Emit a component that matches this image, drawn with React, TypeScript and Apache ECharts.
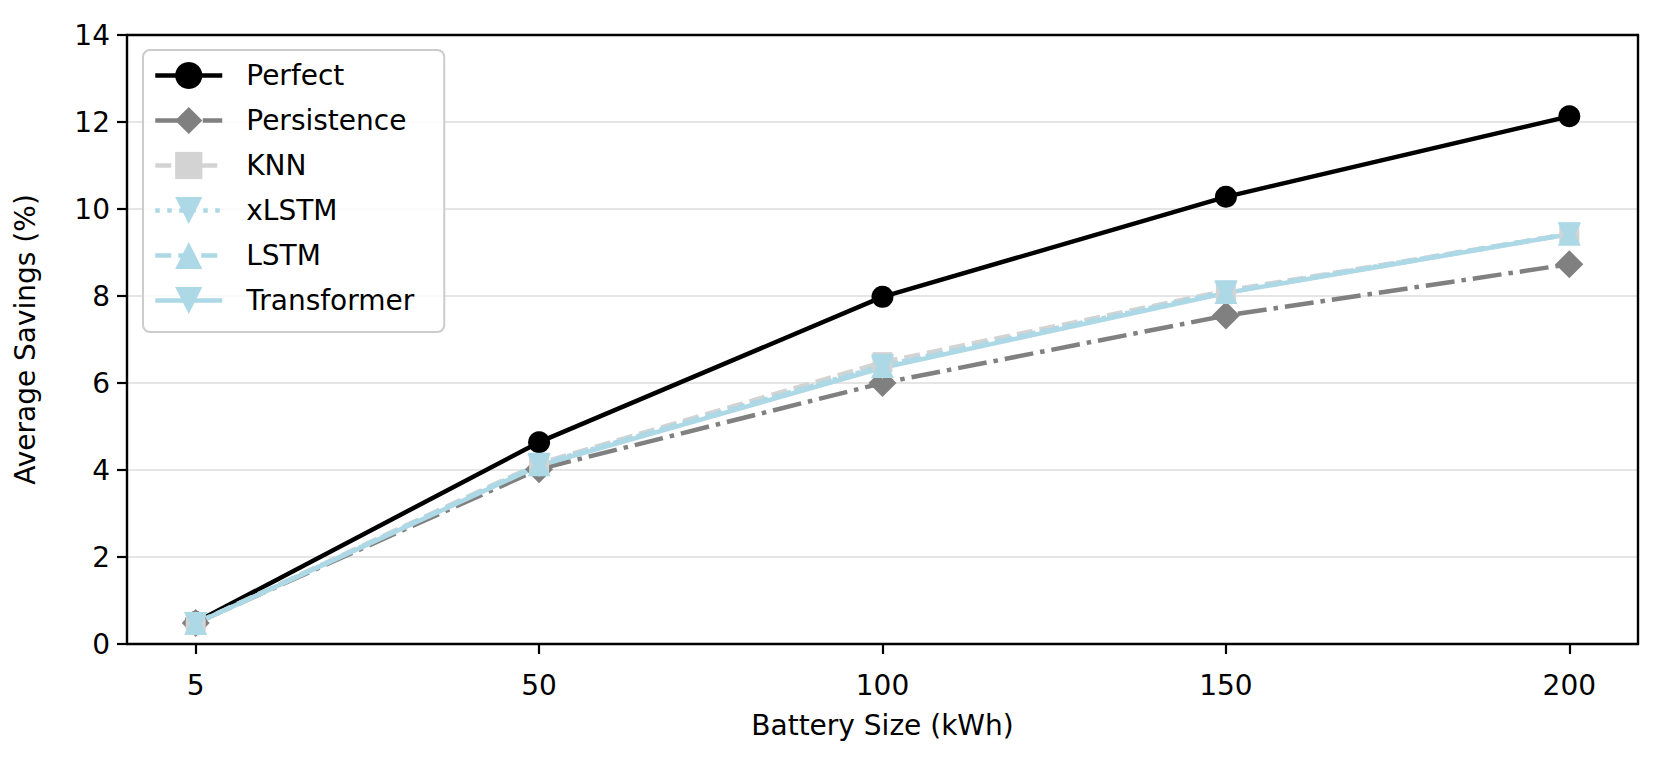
import React, { useEffect, useRef } from "react";
import * as echarts from "echarts";

const categories = ["5", "50", "100", "150", "200"];
const perfect = [0.5, 4.64, 7.98, 10.28, 12.13];
const persistence = [0.48, 4.02, 6.0, 7.55, 8.73];
const knn = [0.48, 4.15, 6.48, 8.12, 9.43];
const xlstm = [0.47, 4.13, 6.4, 8.1, 9.43];
const lstm = [0.47, 4.12, 6.38, 8.08, 9.42];
const transformer = [0.47, 4.1, 6.35, 8.07, 9.42];
const yTicks = [0, 2, 4, 6, 8, 10, 12, 14];

const FONT = "DejaVu Sans";
const LW = 4.5;

function pts(vals: number[]) {
  return vals.map((v, i) => [i, v]);
}

export default function App() {
  const ref = useRef<HTMLDivElement>(null);
  useEffect(() => {
    document.body.style.margin = "0";
    const chart = echarts.init(ref.current!, null, { renderer: "svg" });
    const mk = (
      name: string,
      vals: number[],
      color: string,
      dash: any,
      symbol: string,
      size: any,
      rotate = 0
    ) => ({
      name,
      type: "line",
      xAxisIndex: 0,
      yAxisIndex: 0,
      data: pts(vals),
      symbol,
      symbolSize: size,
      symbolRotate: rotate,
      showSymbol: true,
      lineStyle: { color, width: LW, type: dash, cap: "butt" },
      itemStyle: { color, borderWidth: 0 },
      emphasis: { disabled: true },
    });
    const frameLine = { show: true, onZero: false, lineStyle: { color: "#000", width: 2.4 } };
    chart.setOption({
      animation: false,
      textStyle: { fontFamily: FONT },
      grid: {
        left: 127,
        right: 23,
        top: 35,
        bottom: 119,
      },
      xAxis: [
        {
          type: "value",
          min: -0.2,
          max: 4.2,
          position: "bottom",
          name: "Battery Size (kWh)",
          nameLocation: "middle",
          nameGap: 67,
          nameTextStyle: { fontSize: 28, color: "#000", fontFamily: FONT },
          axisLine: frameLine,
          axisTick: {
            show: true,
            customValues: [0, 1, 2, 3, 4],
            length: 10,
            lineStyle: { color: "#000", width: 2.2 },
          },
          axisLabel: {
            customValues: [0, 1, 2, 3, 4],
            formatter: (v: number) => categories[Math.round(v)] ?? "",
            fontSize: 28,
            color: "#000",
            margin: 27,
            fontFamily: FONT,
          },
          splitLine: { show: false },
        },
        {
          type: "value",
          min: -0.2,
          max: 4.2,
          position: "top",
          axisLine: frameLine,
          axisTick: { show: false },
          axisLabel: { show: false },
          splitLine: { show: false },
        },
      ],
      yAxis: [
        {
          type: "value",
          min: 0,
          max: 14,
          interval: 2,
          position: "left",
          name: "Average Savings (%)",
          nameLocation: "middle",
          nameGap: 88,
          nameTextStyle: { fontSize: 28, color: "#000", fontFamily: FONT },
          axisLine: frameLine,
          axisTick: {
            show: true,
            length: 10,
            lineStyle: { color: "#000", width: 2.2 },
          },
          axisLabel: {
            fontSize: 28,
            color: "#000",
            margin: 17,
            fontFamily: FONT,
            formatter: (v: number) => (yTicks.includes(v) ? String(v) : ""),
          },
          splitLine: { show: true, lineStyle: { color: "#dddddd", width: 1.5 } },
        },
        {
          type: "value",
          min: 0,
          max: 14,
          interval: 2,
          position: "right",
          axisLine: frameLine,
          axisTick: { show: false },
          axisLabel: { show: false },
          splitLine: { show: false },
        },
      ],
      legend: {
        orient: "vertical",
        left: 143,
        top: 50,
        padding: [10, 30, 16, 10],
        itemWidth: 67,
        itemHeight: 34,
        itemGap: 14,
        backgroundColor: "rgba(255,255,255,0.85)",
        borderColor: "#cccccc",
        borderWidth: 2,
        borderRadius: 7,
        lineStyle: { width: LW },
        textStyle: {
          fontSize: 28,
          color: "#000",
          fontFamily: FONT,
          padding: [0, 0, 0, 19],
          lineHeight: 31,
        },
        data: ["Perfect", "Persistence", "KNN", "xLSTM", "LSTM", "Transformer"],
      },
      series: [
        mk("Perfect", perfect, "#000000", "solid", "circle", 22),
        mk("Persistence", persistence, "#808080", [29, 7, 4.5, 7], "diamond", [28, 28]),
        mk("KNN", knn, "#d3d3d3", [16, 7], "rect", 20),
        mk("xLSTM", xlstm, "#add8e6", [4.5, 7.5], "triangle", 23, 180),
        mk("LSTM", lstm, "#add8e6", [16, 7], "triangle", 23),
        mk("Transformer", transformer, "#add8e6", "solid", "triangle", 23, 180),
      ],
    });
    return () => chart.dispose();
  }, []);
  return <div ref={ref} style={{ width: 1661, height: 763 }} />;
}
